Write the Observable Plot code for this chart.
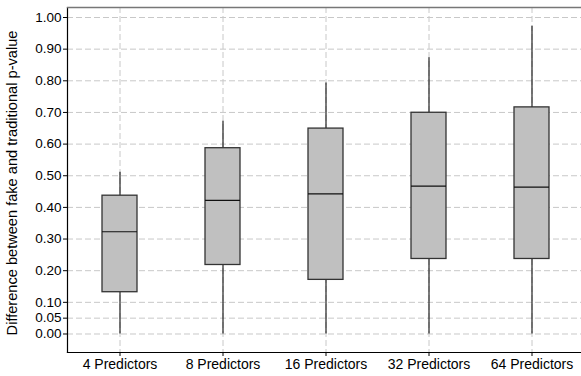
<!DOCTYPE html>
<html>
<head>
<meta charset="utf-8">
<script src="https://cdn.jsdelivr.net/npm/d3@7"></script>
<script src="https://cdn.jsdelivr.net/npm/@observablehq/plot@0.6"></script>
<style>
  html, body { margin: 0; padding: 0; background: #fff; }
  svg { display: block; }
</style>
</head>
<body>
<div id="chart"></div>
<script>
const categories = ["4 Predictors", "8 Predictors", "16 Predictors", "32 Predictors", "64 Predictors"];
const whiskerLow = [0.0, 0.0, 0.0, 0.0, 0.0];
const q1 = [0.132, 0.218, 0.171, 0.237, 0.237];
const median = [0.323, 0.422, 0.443, 0.467, 0.464];
const q3 = [0.437, 0.587, 0.649, 0.699, 0.716];
const whiskerHigh = [0.511, 0.672, 0.793, 0.873, 0.972];
const yTicks = [0, 0.05, 0.1, 0.2, 0.3, 0.4, 0.5, 0.6, 0.7, 0.8, 0.9, 1.0];
const yTitle = "Difference between fake and traditional p-value";

const data = categories.map((c, i) => ({
  cat: c, lo: whiskerLow[i], q1: q1[i], med: median[i], q3: q3[i], hi: whiskerHigh[i]
}));

const font = "Liberation Sans, Arial, sans-serif";
const inset = 34;

const chart = Plot.plot({
  width: 581,
  height: 376,
  marginLeft: 67,
  marginRight: 0,
  marginTop: 7,
  marginBottom: 24,
  style: { fontFamily: font, fontSize: "13.5px", color: "#000", background: "#fff", overflow: "visible" },
  x: { domain: categories, range: [67, 584.5], padding: 0, align: 0.5 },
  y: { domain: [-0.0585, 1.0316] },
  marks: [
    Plot.gridY(yTicks, { stroke: "#c8c8c8", strokeOpacity: 1, strokeDasharray: "6,3" }),
    Plot.gridX(categories, { stroke: "#c8c8c8", strokeOpacity: 1, strokeDasharray: "6,3" }),
    Plot.ruleX(data, { x: "cat", y1: "lo", y2: "q1", stroke: "#222", strokeWidth: 1.2 }),
    Plot.ruleX(data, { x: "cat", y1: "q3", y2: "hi", stroke: "#222", strokeWidth: 1.2 }),
    Plot.barY(data, { x: "cat", y1: "q1", y2: "q3", fill: "#c0c0c0", stroke: "#333", strokeWidth: 1.3, insetLeft: inset, insetRight: inset }),
    Plot.tickY(data, { x: "cat", y: "med", stroke: "#111", strokeWidth: 1.2, insetLeft: inset, insetRight: inset }),
    Plot.axisY(yTicks, { tickFormat: d3.format(".2f"), tickSize: 4, tickPadding: 2, label: null, fontSize: "13.5px", stroke: "#000" }),
    Plot.axisX({ tickSize: 4, tickPadding: 3, label: null, fontSize: "14px", stroke: "#000" }),
    Plot.frame({ anchor: "left", stroke: "#000", strokeWidth: 1.2 }),
    Plot.frame({ anchor: "bottom", stroke: "#000", strokeWidth: 1.2 }),
    Plot.frame({ anchor: "top", stroke: "#777", strokeWidth: 1.3 }),
    Plot.text([yTitle], { frameAnchor: "left", textAnchor: "middle", lineAnchor: "middle", rotate: -90, dx: -55, dy: 3, fontSize: 14.6, fill: "#000" })
  ]
});
document.getElementById("chart").appendChild(chart);
</script>
</body>
</html>
